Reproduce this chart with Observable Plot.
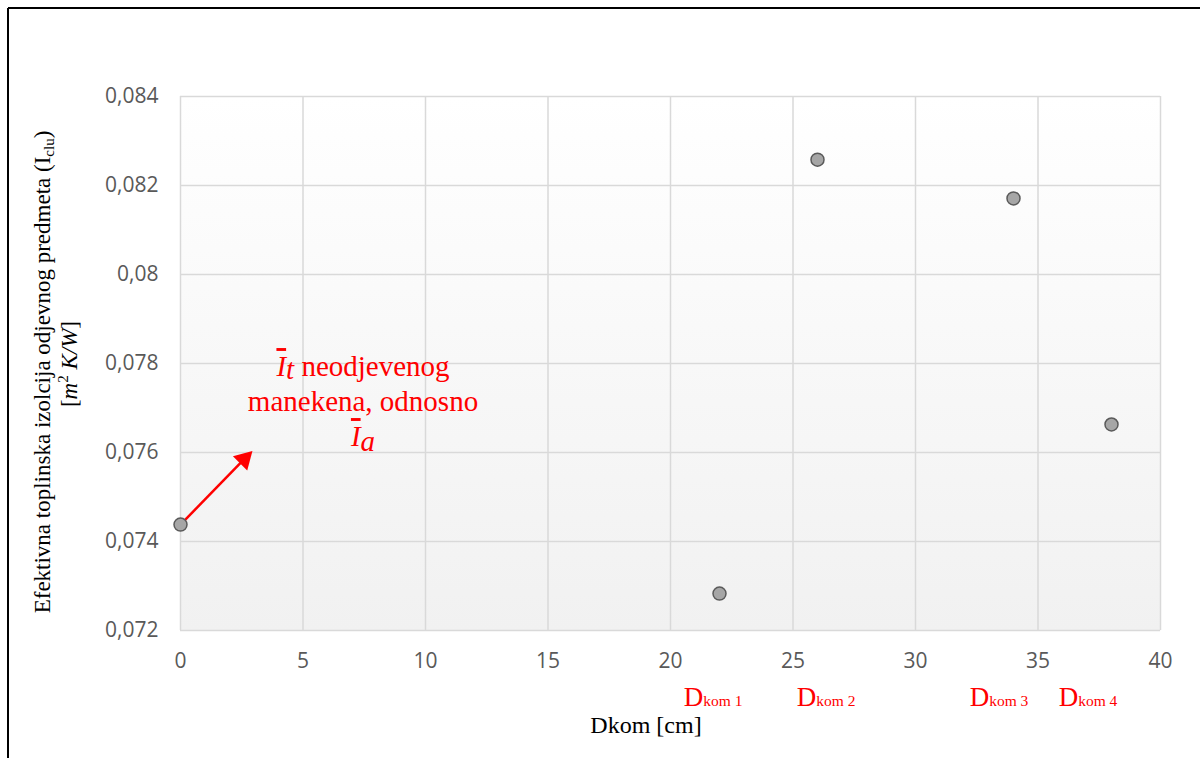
<!DOCTYPE html>
<html><head><meta charset="utf-8">
<script src="https://cdn.jsdelivr.net/npm/d3@7"></script>
<script src="https://cdn.jsdelivr.net/npm/@observablehq/plot@0.6"></script>
<style>body{margin:0;background:#fff} #chart{width:1200px;height:758px}</style>
</head><body><div id="chart"></div>
<script>
// Data
const dkom = [0, 22, 26, 34, 38];
const iclu = [0.07438, 0.07283, 0.08258, 0.08171, 0.07663];
const xTicks = [0, 5, 10, 15, 20, 25, 30, 35, 40];
const yTicks = [0.072, 0.074, 0.076, 0.078, 0.08, 0.082, 0.084];
const komNames = ["kom 1", "kom 2", "kom 3", "kom 4"];
const komX = [21.76, 26.37, 33.43, 37.06];
const arrowStart = {x: 0, y: 0.07438};
const arrowHead = {x: 2.6, y: 0.07585};
const noteX = 7.47, noteY = 0.07692;

const points = dkom.map((x, i) => ({x, y: iclu[i]}));
const fmt = d => String(+d.toFixed(3)).replace(".", ",");

const chart = Plot.plot({
  width: 1200, height: 758,
  marginLeft: 180, marginRight: 40, marginTop: 96, marginBottom: 128,
  x: {domain: [0, 40]},
  y: {domain: [0.072, 0.084]},
  style: {fontFamily: "'Open Sans', sans-serif", fontSize: "21px", color: "#595959", background: "#fff"},
  marks: [
    Plot.frame({fill: "url(#plotBg)", stroke: null}),
    Plot.ruleX(xTicks, {stroke: "#d9d9d9", strokeWidth: 1.5}),
    Plot.ruleY(yTicks, {stroke: "#d9d9d9", strokeWidth: 1.5}),
    Plot.axisX({ticks: xTicks, tickSize: 0, tickPadding: 23, label: null}),
    Plot.axisY({ticks: yTicks, tickSize: 0, tickPadding: 22, label: null, tickFormat: fmt}),
    Plot.link([{x1: arrowStart.x, y1: arrowStart.y, x2: arrowHead.x, y2: arrowHead.y}],
      {x1: "x1", y1: "y1", x2: "x2", y2: "y2", stroke: "red", strokeWidth: 2.5}),
    Plot.dot([arrowHead], {x: "x", y: "y", symbol: "triangle", rotate: 45, r: 7.5, fill: "red", stroke: null}),
    Plot.dot(points, {x: "x", y: "y", r: 6.5, fill: "#a6a6a6", stroke: "#5a5a5a", strokeWidth: 1.5})
  ]
});

const svg = d3.select(chart);
svg.insert("defs", ":first-child").html(
  `<linearGradient id="plotBg" x1="0" y1="0" x2="0" y2="1">
     <stop offset="0" stop-color="#ffffff"/><stop offset="1" stop-color="#f1f1f1"/>
   </linearGradient>`);

const xScale = chart.scale("x"), yScale = chart.scale("y");
const sx = v => xScale.apply(v), sy = v => yScale.apply(v);
const serif = "'Liberation Serif', 'Times New Roman', serif";

// outer frame (left and top edges visible)
svg.append("line").attr("x1", 8).attr("y1", 8).attr("x2", 8).attr("y2", 758).attr("stroke", "#000").attr("stroke-width", 2);
svg.append("line").attr("x1", 8).attr("y1", 8).attr("x2", 1200).attr("y2", 8).attr("stroke", "#000").attr("stroke-width", 2);

// Y axis title
const yl = svg.append("g").attr("font-family", serif).attr("font-size", 23).attr("fill", "#000");
const t1 = yl.append("text").attr("transform", "translate(42,372) rotate(-90)").attr("text-anchor", "middle").attr("dy", "0.35em");
t1.append("tspan").text("Efektivna toplinska izolcija odjevnog predmeta (I");
t1.append("tspan").attr("font-size", 15).attr("dy", 4).text("clu");
t1.append("tspan").attr("dy", -4).text(")");
const t2 = yl.append("text").attr("transform", "translate(69,364) rotate(-90)").attr("text-anchor", "middle").attr("dy", "0.35em");
t2.append("tspan").text("[");
t2.append("tspan").attr("font-style", "italic").text("m");
t2.append("tspan").attr("font-size", 15).attr("dy", -9).text("2");
t2.append("tspan").attr("dy", 9).attr("font-style", "italic").text(" K/W");
t2.append("tspan").text("]");

// X axis title
svg.append("text").attr("x", 646).attr("y", 733).attr("text-anchor", "middle")
  .attr("font-family", serif).attr("font-size", 24).attr("fill", "#000").text("Dkom [cm]");

// Dkom labels
komNames.forEach((k, i) => {
  const t = svg.append("text").attr("x", sx(komX[i])).attr("y", 706).attr("text-anchor", "middle")
    .attr("font-family", serif).attr("fill", "red");
  t.append("tspan").attr("font-size", 27).text("D");
  t.append("tspan").attr("font-size", 15.5).text(k);
});

// Annotation
const nx = sx(noteX), ny = sy(noteY);
const ng = svg.append("g").attr("font-family", serif).attr("font-size", 29).attr("fill", "red").attr("text-anchor", "middle");
const a1 = ng.append("text").attr("x", nx).attr("y", ny - 35);
a1.append("tspan").attr("font-style", "italic").attr("text-decoration", "overline").text("I");
a1.append("tspan").attr("font-style", "italic").attr("dy", 3).text("t");
a1.append("tspan").attr("dy", -3).text(" neodjevenog");
ng.append("text").attr("x", nx).attr("y", ny).text("manekena, odnosno");
const a3 = ng.append("text").attr("x", nx).attr("y", ny + 35);
a3.append("tspan").attr("font-style", "italic").attr("text-decoration", "overline").text("I");
a3.append("tspan").attr("font-style", "italic").attr("dy", 5).text("a");

document.getElementById("chart").append(chart);
</script>
</body></html>
